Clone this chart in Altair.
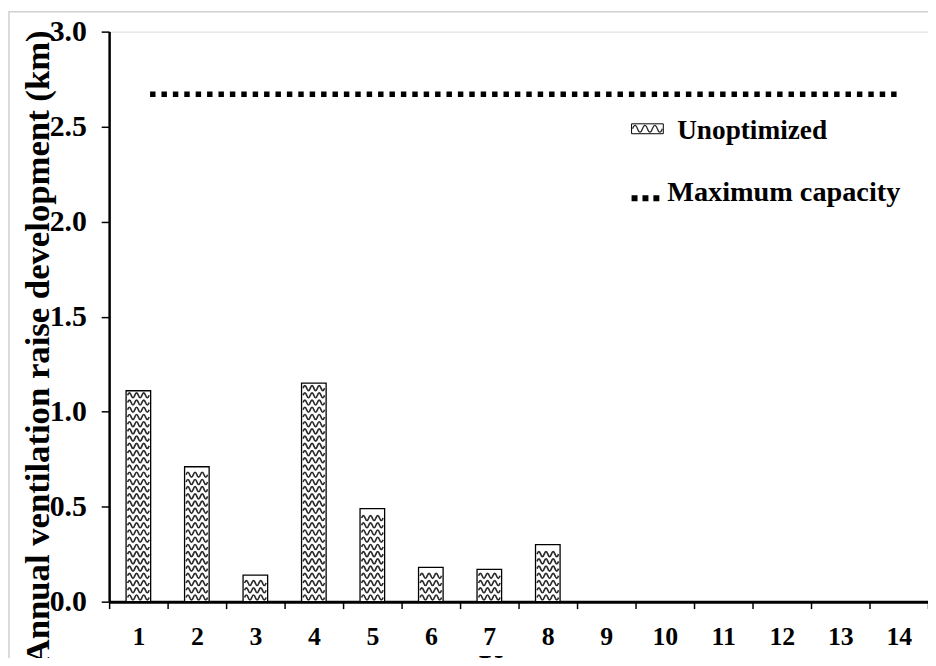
import altair as alt
import pandas as pd

# ---- data ----
years = [str(i) for i in range(1, 15)]
unoptimized = [1.11, 0.71, 0.14, 1.15, 0.49, 0.18, 0.17, 0.30, 0, 0, 0, 0, 0, 0]
max_capacity = 2.67
legend_labels = ["Unoptimized", "Maximum capacity"]
y_ticks = [0.0, 0.5, 1.0, 1.5, 2.0, 2.5, 3.0]

FONT = "Liberation Serif"
W, H = 826, 575
WAVE = ("M-1,0 Q-0.833,-0.46 -0.667,0 Q-0.5,0.46 -0.333,0 Q-0.167,-0.46 0,0 "
        "Q0.167,0.46 0.333,0 Q0.5,-0.46 0.667,0 Q0.833,0.46 1,0")

df = pd.DataFrame({"year": years, "value": unoptimized})
cap_df = pd.DataFrame({"start": [years[0]], "end": [years[-1]], "cap": [max_capacity]})

xscale = alt.Scale(domain=years, paddingInner=0, paddingOuter=0)
yscale = alt.Scale(domain=[0, 3], nice=False)

x_axis = alt.Axis(
    title="Years", labelAngle=0, tickBand="extent", tickSize=7, tickWidth=1.5,
    tickColor="black", domainColor="black", domainWidth=3,
    labelFontSize=26, labelFontWeight="bold", labelPadding=15, labelColor="black",
    titleFontSize=34, titleFontWeight="bold", titlePadding=2, titleColor="black",
)
y_axis = alt.Axis(
    title="Annual ventilation raise development (km)",
    values=y_ticks, format=".1f", grid=False,
    tickSize=8, tickWidth=1.5, tickColor="black",
    domainColor="black", domainWidth=2.5,
    labelFontSize=30, labelFontWeight="bold", labelPadding=15, labelColor="black",
    titleFontSize=35, titleFontWeight="bold", titleColor="black",
    titleAngle=270, titleX=-72, titleY=318, titleAlign="center", titleBaseline="middle",
)

border = alt.Chart(pd.DataFrame({"k": [0]})).mark_rect(
    fill="white", fillOpacity=0, stroke="#d0d0d0", strokeWidth=1.5
).encode(x=alt.value(-101), x2=alt.value(W + 60), y=alt.value(-20), y2=alt.value(H + 120))

bars = alt.Chart(df).mark_bar(
    fill="white", stroke="black", strokeWidth=1.3, width=alt.RelativeBandSize(0.42)
).encode(
    x=alt.X("year:O", scale=xscale, axis=x_axis, sort=years),
    y=alt.Y("value:Q", scale=yscale, axis=y_axis),
)

pattern = alt.Chart(df).transform_calculate(
    row="sequence(0.022, datum.value - 0.012, 0.038)"
).transform_flatten(["row"]).mark_point(
    shape=WAVE, size=470, filled=False, stroke="#2a2a2a", strokeWidth=1.7, opacity=1
).encode(
    x=alt.X("year:O", scale=xscale, sort=years),
    y=alt.Y("row:Q", scale=yscale),
)

cap_line = alt.Chart(cap_df).mark_rule(
    color="black", strokeWidth=5.5, strokeDash=[5.5, 6], strokeCap="butt"
).encode(
    x=alt.X("start:O", scale=xscale, sort=years, bandPosition=0.7),
    x2=alt.X2("end", bandPosition=0.5),
    y=alt.Y("cap:Q", scale=yscale),
)

one = pd.DataFrame({"k": [0]})
leg_box = alt.Chart(one).mark_rect(fill="white", stroke="black", strokeWidth=1).encode(
    x=alt.value(527), x2=alt.value(559), y=alt.value(93), y2=alt.value(103))
leg_wave = alt.Chart(one).mark_point(
    shape=WAVE, size=900, filled=False, stroke="#2a2a2a", strokeWidth=1.3, opacity=1
).encode(x=alt.value(543), y=alt.value(98))
leg_text1 = alt.Chart(one).mark_text(
    text=legend_labels[0], align="left", baseline="alphabetic", font=FONT,
    fontSize=27.5, fontWeight="bold", color="black"
).encode(x=alt.value(573), y=alt.value(108))
leg_dots = alt.Chart(one).mark_rule(
    color="black", strokeWidth=6, strokeDash=[6, 5], strokeCap="butt"
).encode(x=alt.value(527), x2=alt.value(560), y=alt.value(168))
leg_text2 = alt.Chart(one).mark_text(
    text=legend_labels[1], align="left", baseline="alphabetic", font=FONT,
    fontSize=28.5, fontWeight="bold", color="black"
).encode(x=alt.value(563), y=alt.value(171))

chart = alt.layer(
    border, bars, pattern, cap_line, leg_box, leg_wave, leg_text1, leg_dots, leg_text2
).properties(
    width=W, height=H, autosize="none",
    padding={"left": 102, "top": 21, "right": 0, "bottom": 54},
    background="white",
).configure_view(stroke=None).configure(font=FONT)

chart.save("out.html", embed_options={"renderer": "svg", "actions": False})
